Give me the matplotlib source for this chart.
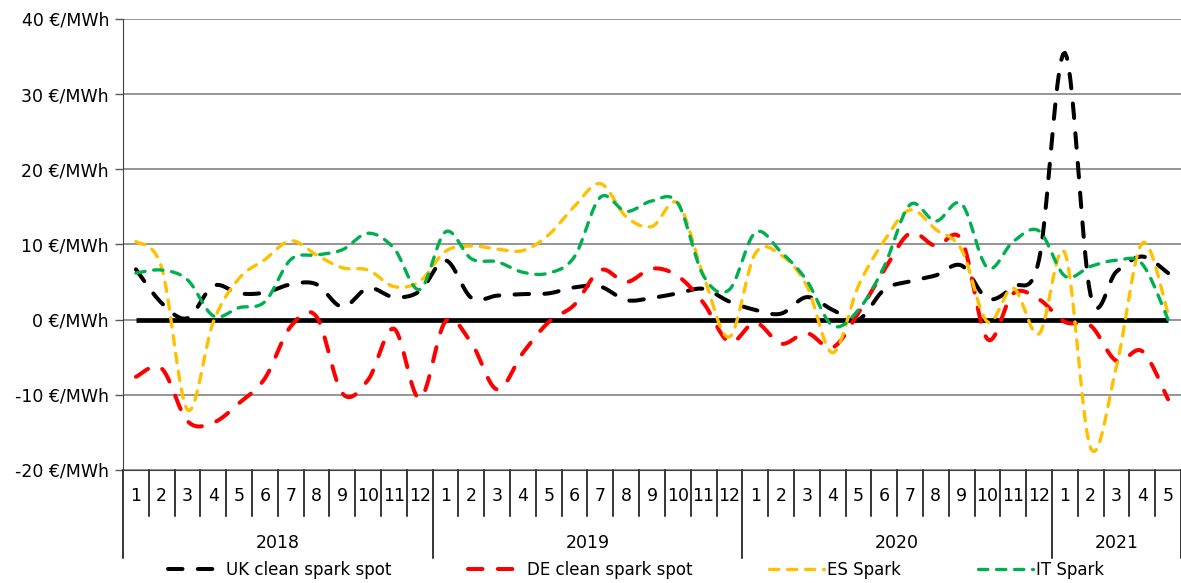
"""Clean spark spreads (UK, DE) and spark spreads (ES, IT), monthly 2018-01 .. 2021-05."""

import matplotlib

matplotlib.use("Agg")
import matplotlib.pyplot as plt  # noqa: E402
import numpy as np  # noqa: E402

# --- data (EUR/MWh) ---------------------------------------------------------------
years = ["2018", "2019", "2020", "2021"]
months_per_year = [12, 12, 12, 5]
month_labels = [
    "1", "2", "3", "4", "5", "6", "7", "8", "9", "10", "11", "12",
    "1", "2", "3", "4", "5", "6", "7", "8", "9", "10", "11", "12",
    "1", "2", "3", "4", "5", "6", "7", "8", "9", "10", "11", "12",
    "1", "2", "3", "4", "5",
]

uk_spark = [
    6.7, 2.2, 0.2, 4.5, 3.5, 3.6, 4.7, 4.7, 1.7, 4.2, 3.0, 3.8,
    7.9, 2.9, 3.2, 3.4, 3.5, 4.3, 4.4, 2.6, 2.9, 3.5, 4.1, 2.4,
    1.3, 0.8, 3.0, 1.3, 0.0, 4.0, 5.1, 5.9, 7.2, 2.8, 4.4, 8.0,
    35.5, 3.2, 6.4, 8.4, 6.2,
]
de_spark = [
    -7.6, -6.5, -13.5, -13.7, -11.1, -7.8, -0.9, 0.4, -9.8, -8.0, -1.2, -10.5,
    -0.2, -3.1, -9.3, -4.4, -0.3, 2.0, 6.6, 5.0, 6.8, 5.8, 2.2, -3.0,
    -0.4, -3.2, -1.8, -3.7, 0.9, 6.6, 11.5, 9.8, 10.6, -2.6, 3.5, 2.7,
    -0.3, -0.8, -5.5, -4.2, -10.6,
]
es_spark = [
    10.4, 6.9, -12.0, -0.3, 5.5, 8.0, 10.5, 8.6, 6.9, 6.6, 4.4, 5.1,
    9.1, 9.8, 9.4, 9.2, 11.3, 15.1, 18.1, 13.7, 12.4, 15.5, 5.8, -2.3,
    8.8, 8.6, 4.5, -4.4, 4.5, 10.5, 14.6, 12.0, 9.3, -0.3, 4.2, -1.9,
    8.9, -17.1, -6.2, 10.2, 0.8,
]
it_spark = [
    6.2, 6.6, 5.3, 0.5, 1.6, 2.4, 8.0, 8.6, 9.3, 11.5, 9.5, 4.0,
    11.7, 8.1, 7.7, 6.3, 6.2, 8.4, 16.3, 14.4, 15.8, 15.5, 5.8, 4.0,
    11.6, 9.0, 5.2, -0.8, 1.3, 7.1, 15.3, 13.1, 15.4, 6.9, 10.4, 11.8,
    5.8, 7.1, 7.9, 7.4, 0.0,
]

plt.rcParams["font.family"] = ["DejaVu Sans"]
FS = 12.5


def smooth(y, n=14):
    """Excel-style smoothed line: uniform Catmull-Rom through every data point."""
    y = np.asarray(y, dtype=float)
    x = np.arange(len(y), dtype=float)
    px = np.concatenate([[x[0]], x, [x[-1]]])
    py = np.concatenate([[y[0]], y, [y[-1]]])
    t = np.linspace(0, 1, n, endpoint=False)
    xs, ys = [], []
    for i in range(1, len(px) - 2):
        for p, out in ((px, xs), (py, ys)):
            p0, p1, p2, p3 = p[i - 1], p[i], p[i + 1], p[i + 2]
            c1 = p1 + (p2 - p0) / 6
            c2 = p2 - (p3 - p1) / 6
            out.extend((1 - t) ** 3 * p1 + 3 * (1 - t) ** 2 * t * c1
                       + 3 * (1 - t) * t ** 2 * c2 + t ** 3 * p2)
    xs.append(x[-1])
    ys.append(y[-1])
    return np.array(xs), np.array(ys)


W, H = 1181, 583
fig = plt.figure(figsize=(W / 100, H / 100), dpi=100)
ax_l, ax_r, ax_t, ax_b = 123, 1181, 19, 470
ax = fig.add_axes((ax_l / W, 1 - ax_b / H, (ax_r - ax_l) / W, (ax_b - ax_t) / H))

n = len(month_labels)
x = np.arange(n)

# zero line drawn as its own series, like the source
ax.plot(x, np.zeros(n), color="black", lw=3.4, solid_capstyle="butt", zorder=2)

series = [
    ("UK clean spark spot", uk_spark, "#000000", 2.9, (3.6, 3.8)),
    ("DE clean spark spot", de_spark, "#FF0000", 2.9, (3.6, 3.8)),
    ("ES Spark", es_spark, "#FFC000", 2.4, (2.8, 2.6)),
    ("IT Spark", it_spark, "#00B050", 2.4, (2.8, 2.6)),
]
for label, vals, color, lw, dash in series:
    sx, sy = smooth(vals)
    ax.plot(sx, sy, color=color, lw=lw, dashes=dash, dash_capstyle="round",
            label=label, zorder=3)

ax.set_xlim(-0.5, n - 0.5)
ax.set_ylim(-20, 40)
yt = [-20, -10, 0, 10, 20, 30, 40]
ax.set_yticks(yt)
ax.set_yticklabels([f"{v} €/MWh" for v in yt], fontsize=FS, color="black")
ax.tick_params(axis="y", direction="out", length=6, width=1, color="#595959", pad=4)
ax.yaxis.grid(True, color="#8c8c8c", lw=1.3)
ax.set_axisbelow(True)
for s in ("top", "right"):
    ax.spines[s].set_visible(False)
ax.spines["left"].set_color("#404040")
ax.spines["bottom"].set_color("#404040")

# multi-level category axis: months, then years
ax.set_xticks([])


def frac(py):
    return (ax_b - py) / (ax_b - ax_t)


tr = ax.get_xaxis_transform()
for i, lab in enumerate(month_labels):
    ax.text(i, frac(496), lab, transform=tr, ha="center", va="center", fontsize=FS)

year_start = np.cumsum([0] + months_per_year)
for i in range(n + 1):
    long_tick = i in year_start
    ax.plot([i - 0.5, i - 0.5], [0, frac(558) if long_tick else frac(516)],
            transform=tr, color="black", lw=1.1, clip_on=False)
for k, yr in enumerate(years):
    mid = (year_start[k] + year_start[k + 1] - 1) / 2
    ax.text(mid, frac(543), yr, transform=tr, ha="center", va="center", fontsize=FS)

fig.legend(
    loc="center",
    bbox_to_anchor=(636 / W, 1 - 570 / H),
    ncol=4,
    frameon=False,
    fontsize=12,
    handlelength=3.3,
    handletextpad=0.2,
    columnspacing=4.6,
    borderaxespad=0,
    borderpad=0,
)

fig.savefig("out.png", dpi=100)
